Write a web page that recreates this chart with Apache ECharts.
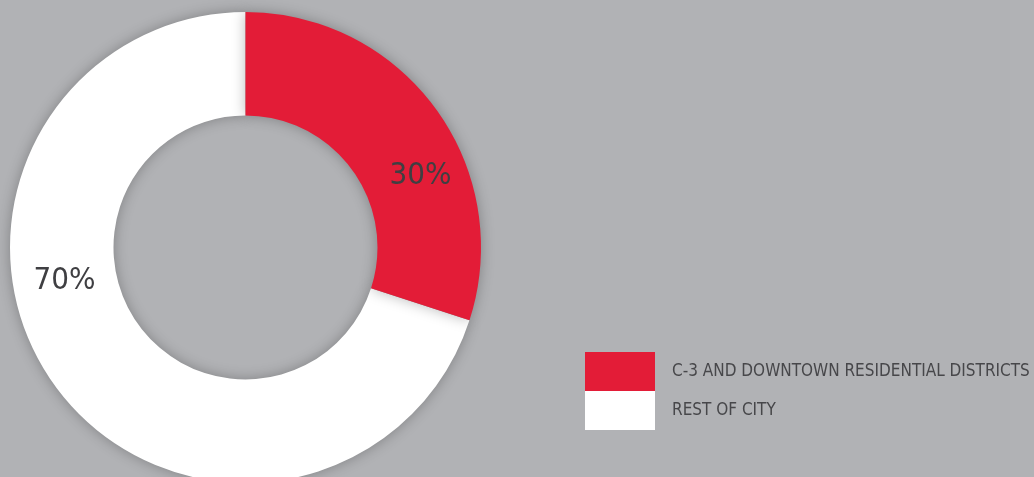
<!DOCTYPE html>
<html>
<head>
<meta charset="utf-8">
<style>
  html, body { margin: 0; padding: 0; background: #b1b2b5; }
  #chart { width: 1034px; height: 477px; }
</style>
<script src="https://cdn.jsdelivr.net/npm/echarts@6/dist/echarts.min.js"></script>
</head>
<body>
<div id="chart"></div>
<script>
// data
const categories = ["C-3 AND DOWNTOWN RESIDENTIAL DISTRICTS", "REST OF CITY"];
const shares = [30, 70];
const colors = ["#e31c37", "#ffffff"];

const narrow = "'DejaVu Sans Condensed', 'Liberation Sans Narrow', sans-serif";

// draw white first so the red sector (and its shadow) sits on top
const order = [1, 0];
const pieData = order.map(i => ({
  name: categories[i],
  value: shares[i],
  itemStyle: { color: colors[i] }
}));

// nudge labels off the mid-angle, like the original
const labelShift = {
  "C-3 AND DOWNTOWN RESIDENTIAL DISTRICTS": [24, 38],
  "REST OF CITY": [-30, -76]
};

const chart = echarts.init(document.getElementById("chart"));
chart.setOption({
  backgroundColor: "#b1b2b5",
  animation: false,
  legend: {
    orient: "vertical",
    left: 580,
    top: 347,
    itemGap: 0,
    itemWidth: 70,
    itemHeight: 39,
    icon: "rect",
    data: categories,
    selectedMode: false,
    textStyle: {
      color: "#47474a",
      fontSize: 17,
      fontFamily: narrow,
      padding: [0, 0, 0, 12]
    }
  },
  series: [
    {
      type: "pie",
      center: [245.5, 247.5],
      radius: [132, 235.5],
      startAngle: 90,
      clockwise: false,
      avoidLabelOverlap: false,
      emphasis: { disabled: true },
      itemStyle: {
        shadowBlur: 14,
        shadowColor: "rgba(0,0,0,0.28)"
      },
      label: {
        show: true,
        position: "inside",
        formatter: "{d}%",
        fontSize: 31,
        fontFamily: narrow,
        color: "#3f3f42"
      },
      labelLine: { show: false },
      labelLayout: function (params) {
        const name = pieData[params.dataIndex].name;
        const s = labelShift[name];
        return { dx: s[0], dy: s[1] };
      },
      data: pieData
    }
  ]
});
</script>
</body>
</html>
